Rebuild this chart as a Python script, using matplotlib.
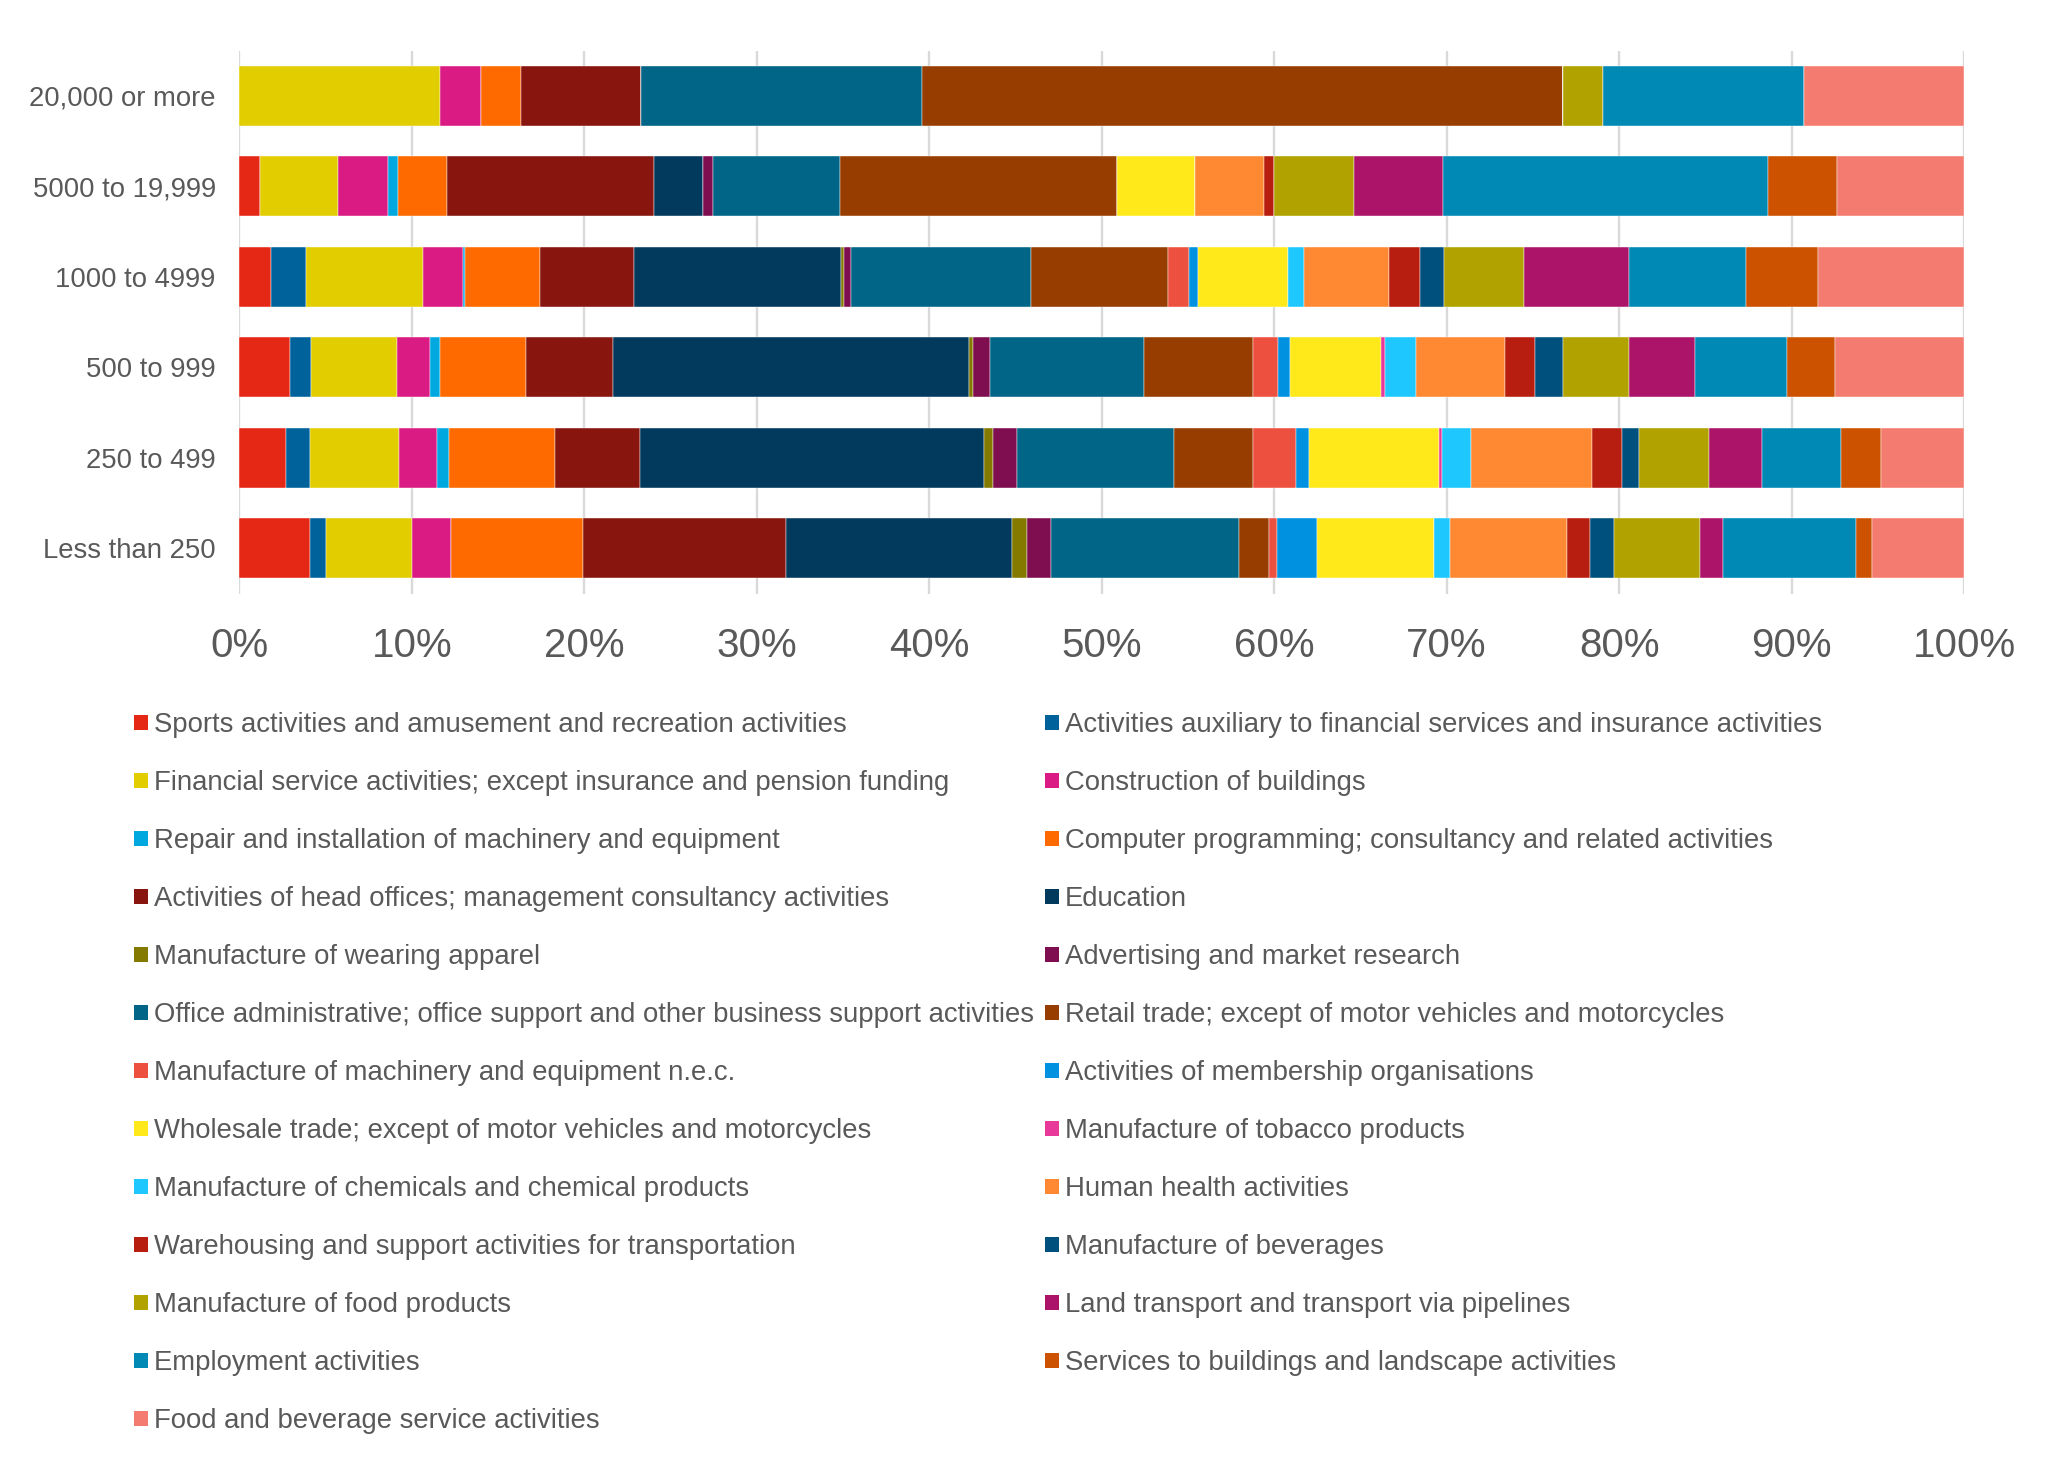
import matplotlib
matplotlib.use("Agg")
import matplotlib.pyplot as plt
from matplotlib.patches import Patch
import numpy as np

plt.rcParams['font.family'] = ['Liberation Sans', 'DejaVu Sans']

# Categories, top to bottom
categories = ["20,000 or more", "5000 to 19,999", "1000 to 4999",
              "500 to 999", "250 to 499", "Less than 250"]

series = [
    "Sports activities and amusement and recreation activities",
    "Activities auxiliary to financial services and insurance activities",
    "Financial service activities; except insurance and pension funding",
    "Construction of buildings",
    "Repair and installation of machinery and equipment",
    "Computer programming; consultancy and related activities",
    "Activities of head offices; management consultancy activities",
    "Education",
    "Manufacture of wearing apparel",
    "Advertising and market research",
    "Office administrative; office support and other business support activities",
    "Retail trade; except of motor vehicles and motorcycles",
    "Manufacture of machinery and equipment n.e.c.",
    "Activities of membership organisations",
    "Wholesale trade; except of motor vehicles and motorcycles",
    "Manufacture of tobacco products",
    "Manufacture of chemicals and chemical products",
    "Human health activities",
    "Warehousing and support activities for transportation",
    "Manufacture of beverages",
    "Manufacture of food products",
    "Land transport and transport via pipelines",
    "Employment activities",
    "Services to buildings and landscape activities",
    "Food and beverage service activities",
]

colors = ["#E52716", "#00629B", "#E2CD00", "#DA1B84", "#00A8E0", "#FF6A00",
          "#88160E", "#023A5E", "#857A00", "#7E0E4F", "#016587", "#973D00",
          "#EE5040", "#0091E1", "#FFE91A", "#E8399A", "#1EC8FF", "#FF8833",
          "#B81E0F", "#00507E", "#B2A200", "#AC1469", "#0089B5", "#CC5200",
          "#F47B6F"]

# Shares (%) of each series, in the series order above
share_20000_plus = [0, 0, 11.64, 2.36, 0, 2.32, 6.95, 0, 0, 0, 16.29, 37.2,
                    0, 0, 0, 0, 0, 0, 0, 0, 2.33, 0, 11.66, 0, 9.25]
share_5000_19999 = [1.2, 0, 4.52, 2.89, 0.6, 2.82, 12.04, 2.79, 0, 0.6, 7.38, 16.03,
                    0, 0, 4.56, 0, 0, 3.99, 0.6, 0, 4.59, 5.16, 18.85, 3.99, 7.39]
share_1000_4999 = [1.86, 2.0, 6.78, 2.33, 0.13, 4.32, 5.45, 12.04, 0.13, 0.4, 10.44, 7.98,
                   1.23, 0.47, 5.23, 0, 0.93, 4.96, 1.76, 1.43, 4.63, 6.06, 6.79, 4.19, 8.46]
share_500_999 = [2.93, 1.23, 4.98, 1.9, 0.6, 4.98, 5.06, 20.64, 0.23, 1.0, 8.88, 6.33,
                 1.49, 0.7, 5.26, 0.23, 1.77, 5.16, 1.73, 1.63, 3.83, 3.83, 5.32, 2.8, 7.49]
share_250_499 = [2.73, 1.36, 5.15, 2.23, 0.7, 6.11, 4.96, 19.94, 0.54, 1.39, 9.08, 4.6,
                 2.46, 0.8, 7.52, 0.14, 1.73, 7.02, 1.7, 1.0, 4.03, 3.09, 4.6, 2.33, 4.79]
share_less_250 = [4.12, 0.9, 4.99, 2.26, 0, 7.64, 11.77, 13.13, 0.87, 1.39, 10.89, 1.77,
                  0.46, 2.27, 6.8, 0, 0.93, 6.79, 1.33, 1.4, 4.96, 1.36, 7.69, 0.94, 5.34]

xtick_values = list(range(0, 101, 10))
xtick_labels = [f"{v}%" for v in xtick_values]

data = np.array([share_20000_plus, share_5000_19999, share_1000_4999,
                 share_500_999, share_250_499, share_less_250], dtype=float)
data = data / data.sum(axis=1, keepdims=True) * 100.0

TEXT = "#595959"
fig = plt.figure(figsize=(20.68, 14.68), dpi=100)
ax = fig.add_axes([0.1157, 0.5957, 0.9497 - 0.1157, 0.9655 - 0.5957])

y = np.arange(len(categories))
left = np.zeros(len(categories))
for i, name in enumerate(series):
    ax.barh(y, data[:, i], left=left, height=0.664, color=colors[i],
            edgecolor="white", linewidth=0.3, label=name, zorder=3)
    left += data[:, i]

ax.set_xlim(0, 100)
ax.set_ylim(len(categories) - 0.5, -0.5)
ax.set_yticks(y)
ax.set_yticklabels(categories)
ax.set_xticks(xtick_values)
ax.set_xticklabels(xtick_labels)
ax.tick_params(axis="x", length=0, pad=24, labelsize=29, labelcolor=TEXT)
ax.tick_params(axis="y", length=0, pad=17, labelsize=19.8, labelcolor=TEXT)
for s in ax.spines.values():
    s.set_visible(False)
ax.xaxis.grid(True, color="#D9D9D9", linewidth=1.7, zorder=0)
ax.set_axisbelow(True)

handles = [Patch(facecolor=c, edgecolor="none") for c in colors]
common = dict(frameon=False, fontsize=19.8, labelcolor=TEXT, handlelength=0.52,
              handleheight=0.48, handletextpad=0.2, labelspacing=1.165,
              borderpad=0, borderaxespad=0, loc="upper left")
leg1 = fig.legend(handles[0::2], series[0::2], bbox_to_anchor=(134 / 2068, 0.515), **common)
leg2 = fig.legend(handles[1::2], series[1::2], bbox_to_anchor=(1045 / 2068, 0.515), **common)

fig.savefig("out.png", dpi=100, facecolor="white")
